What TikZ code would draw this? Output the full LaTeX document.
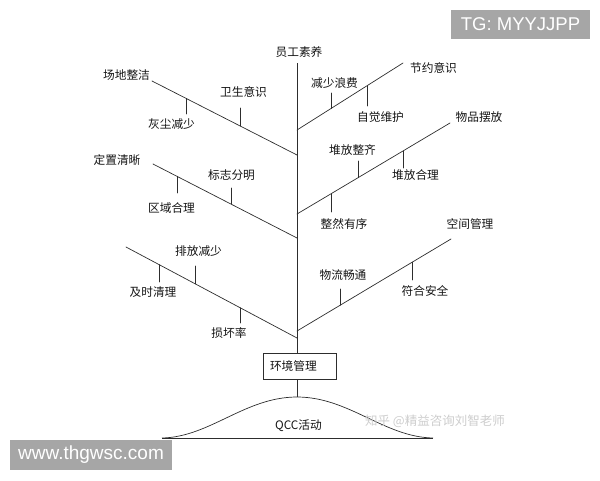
\documentclass[tikz,border=0pt]{standalone}
\usepackage{fontspec}
\setmainfont{Noto Sans CJK SC}
\newfontfamily\markfont{Liberation Sans}
\usetikzlibrary{calc}
\usepackage{tkz-euclide}
\definecolor{LineClr}{RGB}{45,45,45}
\definecolor{TextClr}{RGB}{20,20,20}
\definecolor{MarkClr}{RGB}{166,166,166}
\definecolor{WaterClr}{RGB}{205,205,205}

\begin{document}
\begin{tikzpicture}[x=1pt,y=-1pt,
  lbl/.style={text=TextClr,inner sep=0pt,font=\fontsize{11.7}{12}\selectfont},
  boxnode/.style={draw=LineClr,line width=.8pt,inner xsep=7pt,inner ysep=0pt,
    text width=59pt,align=left,minimum height=26pt,text=TextClr,
    font=\fontsize{11.7}{12}\selectfont},
  markbox/.style={fill=MarkClr,text=white,inner sep=0pt,font=\markfont}]
\useasboundingbox (0,0) rectangle (600,480);
\tkzSetUpLine[line width=.7pt,color=LineClr]

% 主干、分支与曲线的端点
\tkzDefPoints{297/63/T1,297/397/Pk,162/438/Q1,433/438/Q2,%
  152/81/A1,297/155/A2,153/164/B1,297/238/B2,126/247/C1,297/338/C2,%
  297/130/D1,403/63/D2,297/214/E1,450/123/E2,297/331/F1,451/239/F2}

% 分支上的小刻线
\tkzDefPoints{186/98.4/a1,186/114/a2,240/108/a3,240/125.9/a4,%
  177/176.3/b1,177/193/b2,231/188/b3,231/204.1/b4,%
  159/264.6/c1,159/282/c2,195/266/c3,195/283.7/c4,240/307.7/c5,240/323/c6,%
  331/93/d1,331/108.5/d2,367/85.75/d3,367/106/d4,%
  331/193.8/e1,331/212/e2,358/161/e3,358/177.7/e4,403/151/e5,403/168/e6,%
  340/289/f1,340/305.3/f2,412/262.3/f3,412/280/f4}

\tkzDrawSegments(A1,A2 B1,B2 C1,C2 D1,D2 E1,E2 F1,F2)
\tkzDrawSegments(a1,a2 a3,a4 b1,b2 b3,b4 c1,c2 c3,c4 c5,c6)
\tkzDrawSegments(d1,d2 d3,d4 e1,e2 e3,e4 e5,e6 f1,f2 f3,f4)

% 环境管理与 QCC 活动
\node[boxnode] (env) at (299.5,366) {环境管理};
\draw[LineClr,line width=.7pt] (T1) -- (T1 |- env.north);
\draw[LineClr,line width=.7pt] (Pk |- env.south) -- (Pk);
\draw[LineClr,line width=.7pt] (Q1) .. controls (210,437) and (245,397) .. (Pk)
  .. controls (349,397) and (384,437) .. (Q2);
\draw[LineClr,line width=.7pt] (Q1) -- (Q2);
\node[lbl] (qcc) at (298.5,425.5) {QCC活动};

% 各分支的文字
\node[lbl] (staff) at (299,52.5) {员工素养};
\node[lbl] (site) at (126.5,75) {场地整洁};
\node[lbl] (hyg) at (243.5,92) {卫生意识};
\node[lbl] (dust) at (171.5,124.5) {灰尘减少};
\node[lbl] (place) at (117,160) {定置清晰};
\node[lbl] (sign) at (231.5,175.5) {标志分明};
\node[lbl] (zone) at (171.5,208) {区域合理};
\node[lbl] (emit) at (198.5,251) {排放减少};
\node[lbl] (clean) at (153,292) {及时清理};
\node[lbl] (dmg) at (229,333) {损坏率};
\node[lbl] (save) at (433.5,67.5) {节约意识};
\node[lbl] (waste) at (334.5,83) {减少浪费};
\node[lbl] (care) at (380.5,117.5) {自觉维护};
\node[lbl] (goods) at (479,117.5) {物品摆放};
\node[lbl] (neat) at (352.5,150.5) {堆放整齐};
\node[lbl] (stack) at (415.5,175.5) {堆放合理};
\node[lbl] (order) at (344,224.5) {整然有序};
\node[lbl] (space) at (470,224.5) {空间管理};
\node[lbl] (flow) at (343,275.5) {物流畅通};
\node[lbl] (safe) at (425,291) {符合安全};

% 水印
\node[text=WaterClr,inner sep=0pt,font=\fontsize{12.5}{13}\selectfont] (zhihu) at (435,421.5) {知乎 @精益咨询刘智老师};
\node[markbox,minimum width=139pt,minimum height=29pt,font=\markfont\fontsize{18.5}{20}\selectfont] (tg) at (520.5,24.5) {TG: MYYJJPP};
\node[markbox,minimum width=162pt,minimum height=30pt,font=\markfont\fontsize{19}{20}\selectfont] (web) at (91,455) {www.thgwsc.com};
\end{tikzpicture}
\end{document}
